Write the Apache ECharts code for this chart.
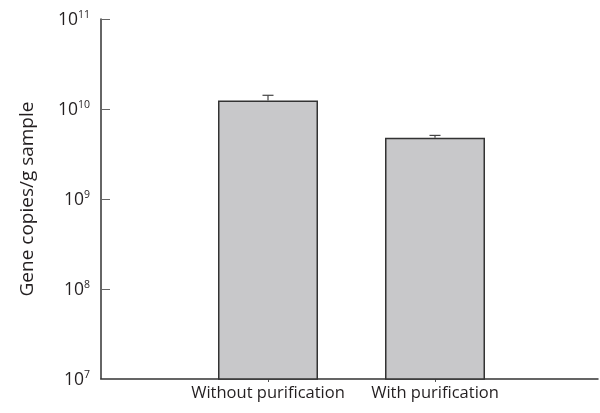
<!DOCTYPE html>
<html>
<head>
<meta charset="utf-8">
<script src="https://cdn.jsdelivr.net/npm/echarts@6/dist/echarts.min.js"></script>
<style>html,body{margin:0;padding:0;background:#fff}#c{width:600px;height:413px}</style>
</head>
<body>
<div id="c"></div>
<script>
var categories = ['Without purification', 'With purification'];
var categoryPos = [1, 2];
var means = [1.24e10, 4.8e9];
var errors = [1.8e9, 0.29e9];

var FONT = '"Open Sans", "Noto Sans", sans-serif';
var chart = echarts.init(document.getElementById('c'), null, {renderer: 'canvas'});

var barData = categoryPos.map(function (p, i) { return [p, means[i]]; });
var errData = categoryPos.map(function (p, i) { return [p, means[i], means[i] + errors[i]]; });

chart.setOption({
  animation: false,
  backgroundColor: '#fff',
  grid: {left: 101, right: 2, top: 19, bottom: 34, containLabel: false},
  xAxis: {
    type: 'value', min: 0, max: 2.976,
    splitLine: {show: false},
    axisLine: {show: true, onZero: false, lineStyle: {color: '#333', width: 1.5}},
    axisTick: {show: true, customValues: categoryPos, length: 3, lineStyle: {color: '#555'}},
    axisLabel: {
      show: true, customValues: categoryPos, margin: 6,
      fontFamily: FONT, fontSize: 16.5, color: '#231f20',
      formatter: function (v) { var i = categoryPos.indexOf(v); return i >= 0 ? categories[i] : ''; }
    }
  },
  yAxis: {
    type: 'log', logBase: 10, min: 1e7, max: 1e11,
    name: 'Gene copies/g sample', nameLocation: 'middle', nameGap: 64,
    nameTextStyle: {fontFamily: FONT, fontSize: 19, color: '#231f20'},
    splitLine: {show: false},
    axisLine: {show: true, lineStyle: {color: '#333', width: 1.5}},
    axisTick: {show: true, inside: true, length: 9, lineStyle: {color: '#666'}},
    axisLabel: {
      margin: 11, color: '#231f20',
      formatter: function (v) {
        var e = Math.round(Math.log10(v));
        return '{b|10}{s|' + e + '}';
      },
      rich: {
        b: {fontFamily: FONT, fontSize: 17.5, color: '#231f20', lineHeight: 20, verticalAlign: 'bottom'},
        s: {fontFamily: FONT, fontSize: 10.5, color: '#231f20', lineHeight: 20, verticalAlign: 'middle', padding: [0, 0, 7, 0]}
      }
    }
  },
  series: [
    {
      type: 'bar', data: barData, barWidth: 100, clip: true,
      itemStyle: {color: '#c8c8ca', borderColor: '#333', borderWidth: 1.5}
    },
    {
      type: 'custom', data: errData, z: 3,
      renderItem: function (params, api) {
        var x = api.value(0);
        var base = api.coord([x, api.value(1)]);
        var top = api.coord([x, api.value(2)]);
        var hw = 5.5;
        return {
          type: 'group',
          children: [
            {type: 'line', shape: {x1: base[0], y1: base[1], x2: top[0], y2: top[1]}, style: {stroke: '#444', lineWidth: 1.2}},
            {type: 'line', shape: {x1: top[0] - hw, y1: top[1], x2: top[0] + hw, y2: top[1]}, style: {stroke: '#444', lineWidth: 1.2}}
          ]
        };
      }
    }
  ]
});
</script>
</body>
</html>
